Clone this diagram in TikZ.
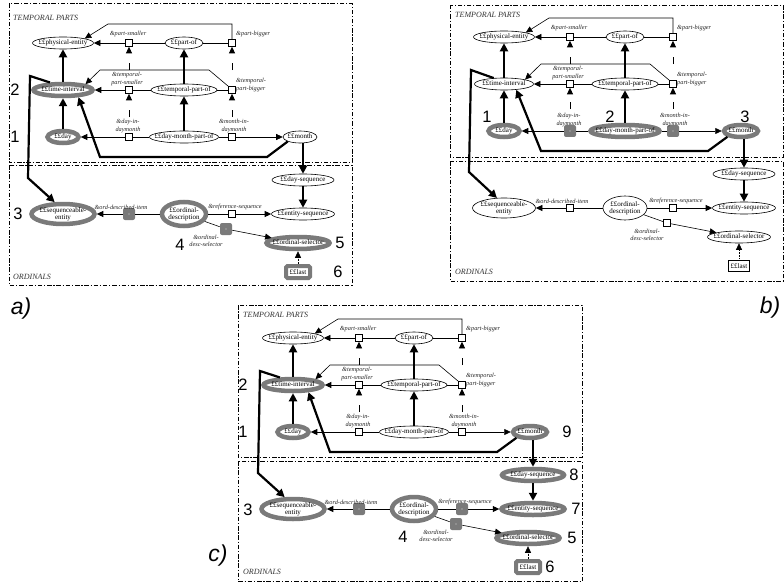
\documentclass[tikz,border=0pt]{standalone}
\usepackage{fontspec}
\setmainfont{Liberation Serif}
\newfontfamily\numfont{Liberation Sans}
\usetikzlibrary{arrows.meta,shapes.geometric}
\definecolor{hlgray}{RGB}{122,122,122}
\tikzset{
 ent/.style={ellipse, draw=black, line width=0.6pt, fill=white, inner xsep=-8pt, inner ysep=0pt,
   minimum height=12pt, font=\fontsize{7}{7.4}\selectfont, text height=4.8pt, text depth=1.5pt},
 enttwo/.style={ellipse, draw=black, line width=0.6pt, fill=white, inner xsep=-8pt, inner ysep=-2pt,
   align=center, font=\fontsize{7}{7.3}\selectfont},
 hot/.style={draw=hlgray, line width=4.5pt},
 rbox/.style={rectangle, draw=black, line width=0.6pt, fill=white, minimum size=7pt, inner sep=0pt},
 rboxhot/.style={draw=none, fill=hlgray, rounded corners=2pt, minimum size=12pt,
   path picture={\fill[white!70!hlgray] (path picture bounding box.center) circle (0.6pt);}},
 lastbox/.style={rectangle, draw=black, line width=0.6pt, fill=white, inner sep=1pt,
   minimum width=21pt, minimum height=11pt, font=\fontsize{7}{7.4}\selectfont},
 lasthot/.style={draw=hlgray, line width=4pt, rounded corners=1.5pt, minimum width=24pt, minimum height=12pt},
 rlab/.style={font=\fontsize{6.3}{7.2}\selectfont\itshape, inner sep=0pt, align=center, text=black!85},
 isa/.style={line width=2.2pt, -{Triangle[width=8pt,length=8pt]}},
 rel/.style={line width=0.6pt, -{Triangle[width=6pt,length=6.5pt]}},
 lnk/.style={line width=0.6pt},
 dsh/.style={rel, dash pattern=on 7pt off 16pt, dash phase=7pt},
 dotarr/.style={rel, densely dotted},
 num/.style={font=\numfont\fontsize{16.5}{18}\selectfont, inner sep=0pt},
 panlbl/.style={font=\numfont\itshape\fontsize{23}{25}\selectfont, inner sep=0pt},
 frame/.style={line width=0.7pt, dash pattern=on 4.5pt off 1.8pt on 1.2pt off 1.8pt},
 sect/.style={font=\fontsize{8}{9}\selectfont\itshape, anchor=west, inner sep=0pt, text=black!80},
 % highlighting, panel a
 atime/.style=hot, aday/.style=hot, aseqent/.style=hot, aordesc/.style=hot, aordsel/.style=hot,
 aod/.style=rboxhot, aods/.style=rboxhot, alast/.style=lasthot,
 % panel b
 bday/.style=hot, bdmpo/.style=hot, bmonth/.style=hot, bdim/.style=rboxhot, bmim/.style=rboxhot,
 % panel c
 ctime/.style=hot, cday/.style=hot, cmonth/.style=hot, cdayseq/.style=hot, centseq/.style=hot,
 cseqent/.style=hot, cordesc/.style=hot, cordsel/.style=hot,
 cod/.style=rboxhot, crs/.style=rboxhot, cods/.style=rboxhot, clast/.style=lasthot,
}
\newcommand\drawpanel[1]{%
\node[ent,minimum width=61pt,#1phys/.try] (#1phys) at (63,43) {££physical-entity};
\node[ent,minimum width=38pt,#1partof/.try] (#1partof) at (184,43) {££part-of};
\node[rbox,#1psmall/.try] (#1psmall) at (129,43) {};
\node[rbox,#1pbig/.try] (#1pbig) at (232,43) {};
\node[ent,minimum width=59pt,#1time/.try] (#1time) at (63,90) {££time-interval};
\node[rbox,#1tpsmall/.try] (#1tpsmall) at (129,90) {};
\node[ent,minimum width=66pt,#1tpof/.try] (#1tpof) at (184,90) {££temporal-part-of};
\node[rbox,#1tpbig/.try] (#1tpbig) at (232,90) {};
\node[ent,minimum width=31pt,#1day/.try] (#1day) at (63,137) {££day};
\node[rbox,#1dim/.try] (#1dim) at (129,137) {};
\node[ent,minimum width=69pt,#1dmpo/.try] (#1dmpo) at (184,137) {££day-month-part-of};
\node[rbox,#1mim/.try] (#1mim) at (232,137) {};
\node[ent,minimum width=34pt,#1month/.try] (#1month) at (300,137) {££month};
\node[ent,minimum width=62pt,#1dayseq/.try] (#1dayseq) at (303,180) {££day-sequence};
\node[ent,minimum width=63pt,#1entseq/.try] (#1entseq) at (303,214) {££entity-sequence};
\node[enttwo,minimum width=63pt,minimum height=20pt,#1seqent/.try] (#1seqent) at (63,214) {££sequenceable-\\entity};
\node[rbox,#1od/.try] (#1od) at (129,214) {};
\node[enttwo,minimum width=44pt,minimum height=24pt,#1ordesc/.try] (#1ordesc) at (184,214) {££ordinal-\\description};
\node[rbox,#1rs/.try] (#1rs) at (232,214) {};
\node[rbox,#1ods/.try] (#1ods) at (226,229) {};
\node[ent,minimum width=63pt,#1ordsel/.try] (#1ordsel) at (298,243) {££ordinal-selector};
\node[lastbox,#1last/.try] (#1last) at (298,272) {££last};
\node[rlab] (#1pslab) at (128,34) {\&part-smaller};
\node[rlab,anchor=west] (#1pblab) at (236,34) {\&part-bigger};
\node[rlab] (#1tpslab) at (127,79) {\&temporal-\\part-smaller};
\node[rlab,anchor=west,align=left] (#1tpblab) at (236,85) {\&temporal-\\part-bigger};
\node[rlab] (#1dimlab) at (128,126) {\&day-in-\\daymonth};
\node[rlab] (#1mimlab) at (234,126) {\&month-in-\\daymonth};
\node[rlab] (#1odlab) at (121,207) {\&ord-described-item};
\node[rlab] (#1rslab) at (235,207) {\&reference-sequence};
\node[rlab] (#1odslab) at (206,241) {\&ordinal-\\desc-selector};
\coordinate (#1p1) at (232,24); \coordinate (#1p2) at (108,24);
\coordinate (#1q1) at (209,70); \coordinate (#1q2) at (100,70);
\coordinate (#1m1) at (267,157); \coordinate (#1m2) at (100,157);
\coordinate (#1t1) at (30,76); \coordinate (#1t2) at (28,178);
\draw[isa] (#1time) -- (#1phys);
\draw[isa] (#1day) -- (#1time);
\draw[isa] (#1tpof) -- (#1partof);
\draw[isa] (#1dmpo) -- (#1tpof);
\draw[isa] (#1dayseq) -- (#1entseq);
\draw[isa] (#1dayseq.north |- #1month.south) -- (#1dayseq.north);
\draw[isa] (#1month.south west) -- (#1m1) -- (#1m2) -- (#1time.-25);
\draw[isa] (#1time.150) -- (#1t1) -- (#1t2) -- (#1seqent.125);
\draw[rel] (#1psmall) -- (#1phys);
\draw[lnk] (#1partof) -- (#1psmall);
\draw[lnk] (#1partof) -- (#1pbig);
\draw[rel] (#1pbig.north) -- (#1p1) -- (#1p2) -- (#1phys.north east);
\draw[rel] (#1tpsmall) -- (#1time);
\draw[lnk] (#1tpof) -- (#1tpsmall);
\draw[lnk] (#1tpof) -- (#1tpbig);
\draw[rel] (#1tpbig.north west) -- (#1q1) -- (#1q2) -- (#1time.north east);
\draw[dsh] (#1tpsmall) -- (#1psmall);
\draw[dsh] (#1tpbig) -- (#1pbig);
\draw[dsh] (#1dim) -- (#1tpsmall);
\draw[dsh] (#1mim) -- (#1tpbig);
\draw[rel] (#1dim) -- (#1day);
\draw[lnk] (#1dmpo) -- (#1dim);
\draw[lnk] (#1dmpo) -- (#1mim);
\draw[rel] (#1mim) -- (#1month);
\draw[rel] (#1od) -- (#1seqent);
\draw[lnk] (#1ordesc) -- (#1od);
\draw[lnk] (#1ordesc) -- (#1rs);
\draw[rel] (#1rs) -- (#1entseq);
\draw[lnk] (#1ordesc) -- (#1ods);
\draw[rel] (#1ods) -- (#1ordsel);
\draw[dotarr] (#1last) -- (#1ordsel);
}
\begin{document}
\begin{tikzpicture}[x=1pt,y=-1pt]
\useasboundingbox (0,0) rectangle (784,583);
% ---------------- panel a
\draw[frame] (9,3.3) rectangle (352,162.7);
\draw[frame] (9,165) rectangle (352,285);
\node[sect] (atplab) at (13,18) {TEMPORAL PARTS};
\node[sect] (aordlab) at (13,277) {ORDINALS};
\drawpanel{a}
\node[num] (an2) at (15,90) {2};
\node[num] (an1) at (15,137) {1};
\node[num] (an3) at (18,214) {3};
\node[num] (an4) at (180,245) {4};
\node[num] (an5) at (340,243) {5};
\node[num] (an6) at (338,272) {6};
\node[panlbl] (apl) at (21,309) {a)};
% ---------------- panel b
\draw[frame] (450,5) rectangle (783,157);
\draw[frame] (450,161) rectangle (783,281);
\node[sect] (btplab) at (455,15) {TEMPORAL PARTS};
\node[sect] (bordlab) at (455,272) {ORDINALS};
\begin{scope}[shift={(441,-6)}]
\drawpanel{b}
\end{scope}
\node[num] (bn1) at (487,117) {1};
\node[num] (bn2) at (610,117) {2};
\node[num] (bn3) at (745,117) {3};
\node[panlbl] (bpl) at (770,308) {b)};
% ---------------- panel c
\draw[frame] (238,305) rectangle (582,457);
\draw[frame] (238,461) rectangle (582,581.5);
\node[sect] (ctplab) at (243,315) {TEMPORAL PARTS};
\node[sect] (cordlab) at (243,572) {ORDINALS};
\begin{scope}[shift={(230,295)}]
\drawpanel{c}
\end{scope}
\node[num] (cn2) at (243,385) {2};
\node[num] (cn1) at (243,432) {1};
\node[num] (cn9) at (567,432) {9};
\node[num] (cn8) at (574,475) {8};
\node[num] (cn7) at (576,509) {7};
\node[num] (cn5) at (572,538) {5};
\node[num] (cn6) at (550,567) {6};
\node[num] (cn3) at (248,510) {3};
\node[num] (cn4) at (403,537) {4};
\node[panlbl] (cpl) at (218,556) {c)};
\end{tikzpicture}
\end{document}
